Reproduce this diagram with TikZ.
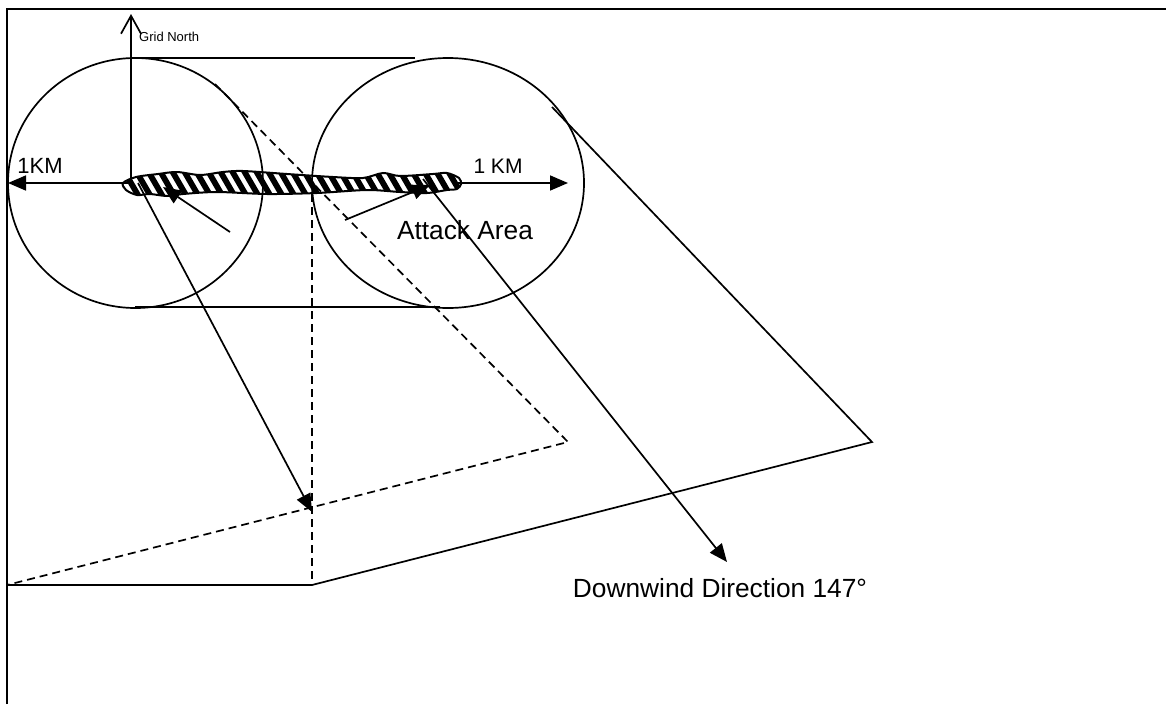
\documentclass[tikz,border=0pt]{standalone}
\usepackage{fontspec}
\setmainfont{Liberation Sans}
\usetikzlibrary{arrows.meta}
\tikzset{
  ln/.style={line width=1.7pt},
  dsh/.style={ln, dash pattern=on 8pt off 5pt},
  tri/.style={-{Triangle[length=18pt,width=15pt]}},
  lbl/.style={inner sep=0pt, font=\fontsize{21}{24}\selectfont},
  big/.style={inner sep=0pt, font=\fontsize{26.3}{30}\selectfont},
}
\begin{document}
\begin{tikzpicture}[x=1pt,y=-1pt]
\useasboundingbox (0,0) rectangle (1166,704);
% frame
\draw[line width=2.2pt] (7,704) -- (7,9) -- (1166,9);
% coordinates
\coordinate (O) at (131,183);
\coordinate (N) at (131,14);
\coordinate (W) at (8,183);
\coordinate (Rs) at (455,183);
\coordinate (E) at (568,183);
\coordinate (T1) at (131,58);
\coordinate (T2) at (415,58);
\coordinate (B1) at (135,307);
\coordinate (B2) at (440,307);
\coordinate (D1) at (215,84);
\coordinate (D2) at (568,442);
\coordinate (D3) at (7,585);
\coordinate (V1) at (312,194);
\coordinate (V2) at (312,585);
\coordinate (S1) at (552,107);
\coordinate (S2) at (872,442);
\coordinate (A1s) at (230,232);
\coordinate (A1t) at (163,187);
\coordinate (A2s) at (345,220);
\coordinate (A2t) at (430,185);
\coordinate (L1) at (138,183);
\coordinate (L2) at (312,512);
\coordinate (DW1) at (423,179);
\coordinate (DW2) at (727,562);
% circles
\draw[ln] (135.5,183) ellipse [x radius=127.5pt, y radius=125pt];
\draw[ln] (448,183) ellipse [x radius=136pt, y radius=125pt];
\draw[ln] (T1) -- (T2);
\draw[ln] (B1) -- (B2);
% dashed
\draw[dsh] (D1) -- (D2) -- (D3);
\draw[dsh] (V1) -- (V2);
% solid polygon
\draw[ln] (D3) -- (V2) -- (S2) -- (S1);
% hatched attack area
\def\blob{plot[smooth cycle, tension=0.5] coordinates {
 (123,183) (136,177) (158,174) (177,172) (200,175) (223,172) (243,171)
 (287,174) (333,177) (363,178) (383,173) (400,176) (433,174) (447,173)
 (459,178) (461,184) (457,189) (447,190) (427,193) (400,192) (367,190)
 (317,193) (267,194) (217,192) (183,194) (167,196) (150,194) (137,195)
 (126,190)}}
\begin{scope}
\clip \blob;
\foreach \x in {96,108,...,480} \draw[line width=5.8pt] (\x,164) -- (\x+22,202);
\end{scope}
\draw[line width=2pt] \blob;
% grid north
\draw[ln, -{Straight Barb[length=18pt,width=20pt]}] (O) -- (N);
\node[anchor=west, inner sep=0pt, font=\fontsize{13}{15}\selectfont] (gn) at (139,37) {Grid North};
% 1 km arrows
\draw[ln, tri] (O) -- (W);
\draw[ln, tri] (Rs) -- (E);
\node[lbl, font=\fontsize{22}{24}\selectfont] (k1) at (40,166) {1KM};
\node[lbl] (k2) at (498,166) {1 KM};
% attack area
\node[big] (aa) at (465,230) {Attack Area};
\draw[ln, tri] (A1s) -- (A1t);
\draw[ln, tri] (A2s) -- (A2t);
% long arrows
\draw[ln, tri] (L1) -- (L2);
\draw[ln, tri] (DW1) -- (DW2);
\node[big] (dw) at (720,588) {Downwind Direction 147°};
\end{tikzpicture}
\end{document}
